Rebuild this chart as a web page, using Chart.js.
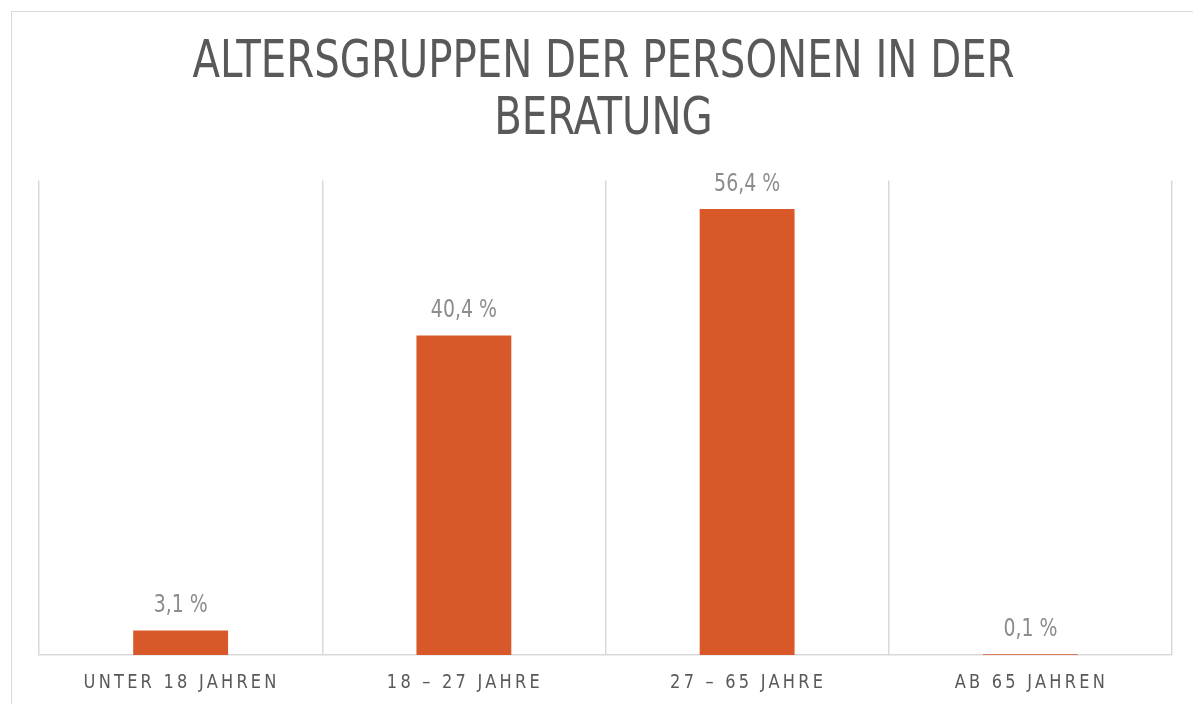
<!DOCTYPE html>
<html>
<head>
<meta charset="utf-8">
<script src="https://cdn.jsdelivr.net/npm/chart.js@4.4.1/dist/chart.umd.min.js"></script>
<style>
  html, body { margin: 0; padding: 0; background: #fff; }
  #frame { position: absolute; left: 11px; top: 11px; width: 1200px; height: 720px;
           border: 1.5px solid #d9d9d9; box-sizing: border-box; }
  #wrap { position: absolute; left: 0; top: 0; width: 1193px; height: 704px; }
</style>
</head>
<body>
<div id="frame"></div>
<div id="wrap"><canvas id="chart"></canvas></div>
<script>
// --- Daten ---
const categories = ['UNTER 18 JAHREN', '18 – 27 JAHRE', '27 – 65 JAHRE', 'AB 65 JAHREN'];
const values = [3.1, 40.4, 56.4, 0.1];
const valueLabels = ['3,1 %', '40,4 %', '56,4 %', '0,1 %'];
const titleLines = ['ALTERSGRUPPEN DER PERSONEN IN DER', 'BERATUNG'];

const COLORS = {
    bar: '#D9582A',
    grid: '#D9D9D9',
    title: '#595959',
    tick: '#595959',
    value: '#8C8C8C'
};
const NARROW = "'DejaVu Sans Condensed', 'DejaVu Sans', sans-serif";

// Text horizontal gestaucht zeichnen (schmale Schrift nachahmen)
function drawNarrow(ctx, text, x, y, sx) {
    ctx.save();
    ctx.translate(x, y);
    ctx.scale(sx, 1);
    ctx.fillText(text, 0, 0);
    ctx.restore();
}

// Titel selbst zeichnen, Chart.js-Titel nur für das Layout
const narrowTitle = {
    id: 'narrowTitle',
    afterDraw(chart) {
        const t = chart.titleBlock;
        const ctx = chart.ctx;
        const opts = t.options;
        const lh = opts.font.size * opts.font.lineHeight;
        ctx.save();
        ctx.font = opts.font.size + 'px ' + NARROW;
        ctx.fillStyle = COLORS.title;
        ctx.textAlign = 'center';
        ctx.textBaseline = 'middle';
        const cx = (chart.chartArea.left + chart.chartArea.right) / 2 - 2;
        titleLines.forEach((line, i) => {
            drawNarrow(ctx, line, cx, t.top + opts.padding.top + lh * (i + 0.5), 0.86);
        });
        ctx.restore();
    }
};

// Beschriftungen der x-Achse mit Sperrung
const spacedTicks = {
    id: 'spacedTicks',
    afterDraw(chart) {
        const ctx = chart.ctx;
        const x = chart.scales.x;
        ctx.save();
        ctx.font = '20px ' + NARROW;
        ctx.fillStyle = COLORS.tick;
        ctx.textAlign = 'center';
        ctx.textBaseline = 'middle';
        ctx.letterSpacing = '3.6px';
        categories.forEach((c, i) => {
            drawNarrow(ctx, c, x.getPixelForTick(i) + 1, x.bottom - 12, 0.9);
        });
        ctx.restore();
    }
};

// Werte über den Balken
const valueTags = {
    id: 'valueTags',
    afterDatasetsDraw(chart) {
        const ctx = chart.ctx;
        const meta = chart.getDatasetMeta(0);
        ctx.save();
        ctx.font = '25px ' + NARROW;
        ctx.fillStyle = COLORS.value;
        ctx.textAlign = 'center';
        ctx.textBaseline = 'alphabetic';
        meta.data.forEach((bar, i) => {
            drawNarrow(ctx, valueLabels[i], bar.x, bar.y - 18, 0.84);
        });
        ctx.restore();
    }
};

new Chart(document.getElementById('chart'), {
    type: 'bar',
    data: {
        labels: categories,
        datasets: [{
            data: values,
            backgroundColor: COLORS.bar,
            borderWidth: 0,
            categoryPercentage: 1,
            barPercentage: 0.335
        }]
    },
    options: {
        responsive: true,
        maintainAspectRatio: false,
        animation: false,
        layout: { padding: { left: 39, right: 21, top: 0, bottom: 9 } },
        plugins: {
            legend: { display: false },
            tooltip: { enabled: false },
            title: {
                display: true,
                text: titleLines,
                color: 'transparent',
                font: { family: NARROW, size: 52, weight: 'normal', lineHeight: 1.1 },
                padding: { top: 35, bottom: 31 }
            }
        },
        scales: {
            x: {
                grid: { display: true, offset: true, color: COLORS.grid, lineWidth: 1.5, drawTicks: false },
                border: { display: true, color: COLORS.grid, width: 1.5 },
                ticks: { color: 'transparent', font: { size: 20, family: NARROW }, padding: 8 }
            },
            y: {
                display: false,
                min: 0,
                max: 60
            }
        }
    },
    plugins: [narrowTitle, spacedTicks, valueTags]
});
</script>
</body>
</html>
